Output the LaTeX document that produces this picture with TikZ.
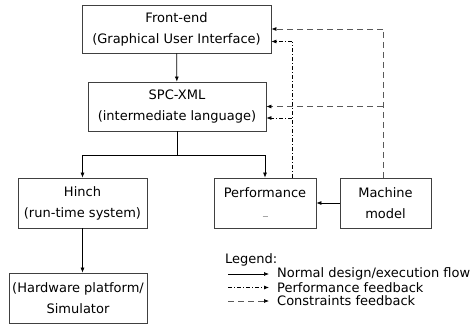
\documentclass[tikz,border=0pt]{standalone}
\usepackage{fontspec}
\setmainfont{DejaVu Sans}
\usetikzlibrary{arrows.meta}
\begin{document}
\begin{tikzpicture}[x=1pt,y=-1pt,
  box/.style={draw=black!75, line width=0.8pt, align=center, inner sep=0pt,
    font=\fontsize{13}{21}\selectfont},
  arr/.style={-{Latex[length=5pt,width=4pt,color=black]}, line width=0.7pt},
  dd/.style={dash pattern=on 4pt off 2pt on 1pt off 2pt, line width=0.7pt},
  dsh/.style={dash pattern=on 6pt off 4pt, line width=0.9pt, draw=black!65},
  lbl/.style={anchor=west, inner sep=0pt, font=\fontsize{13}{15}\selectfont}]
\useasboundingbox (0,0) rectangle (476,327);
\node[box, minimum width=189pt, minimum height=48pt] (fe) at (176.5,29) {Front-end\\(Graphical User Interface)};
\node[box, minimum width=178pt, minimum height=49pt] (spc) at (177,106.5) {SPC-XML\\(intermediate language)};
\node[box, minimum width=129pt, minimum height=50pt] (hinch) at (82.5,203) {Hinch\\(run-time system)};
\node[box, minimum width=102pt, minimum height=50pt] (perf) at (265,203) {Performance\\\textcolor{black!35}{\rule[2pt]{5pt}{0.6pt}}};
\node[box, minimum width=91pt, minimum height=50pt] (mach) at (385.5,203) {Machine\\model};
\node[box, minimum width=138pt, minimum height=50pt] (hw) at (78,298) {(Hardware platform/\\Simulator};
% normal flow
\coordinate (split) at (177,155);
\draw[arr] (fe) -- (spc);
\draw[line width=0.7pt] (spc.south) -- (split);
\draw[arr] (split) -| (hinch.north);
\draw[arr] (split) -| (perf.north);
\draw[arr] (hinch.south) -- (hinch.south |- hw.north);
\draw[arr] (mach) -- (perf);
% performance feedback
\coordinate (pdtop) at (292,41.5);
\coordinate (pdspc) at (292,118);
\draw[dd] (perf.north -| pdtop) -- (pdtop);
\draw[dd,arr] (pdtop) -- (pdtop -| fe.east);
\draw[dd,arr] (pdspc) -- (pdspc -| spc.east);
% constraints feedback
\coordinate (mdtop) at (383,29);
\coordinate (mdspc) at (383,106.5);
\draw[dsh] (mach.north -| mdtop) -- (mdtop);
\draw[dsh,arr] (mdtop) -- (fe.east);
\draw[dsh,arr] (mdspc) -- (spc.east);
% legend
\node[lbl] (leg) at (225,260) {Legend:};
\node[lbl] (l1) at (277,274) {Normal design/execution flow};
\node[lbl] (l2) at (277,287.5) {Performance feedback};
\node[lbl] (l3) at (277,301) {Constraints feedback};
\coordinate (l1a) at (228,274);
\coordinate (l2a) at (228,287.5);
\coordinate (l3a) at (228,301);
\draw[arr] (l1a) -- ([xshift=-8pt]l1.west);
\draw[dd,arr] (l2a) -- ([xshift=-8pt]l2.west);
\draw[dsh,arr] (l3a) -- ([xshift=-8pt]l3.west);
\end{tikzpicture}
\end{document}
